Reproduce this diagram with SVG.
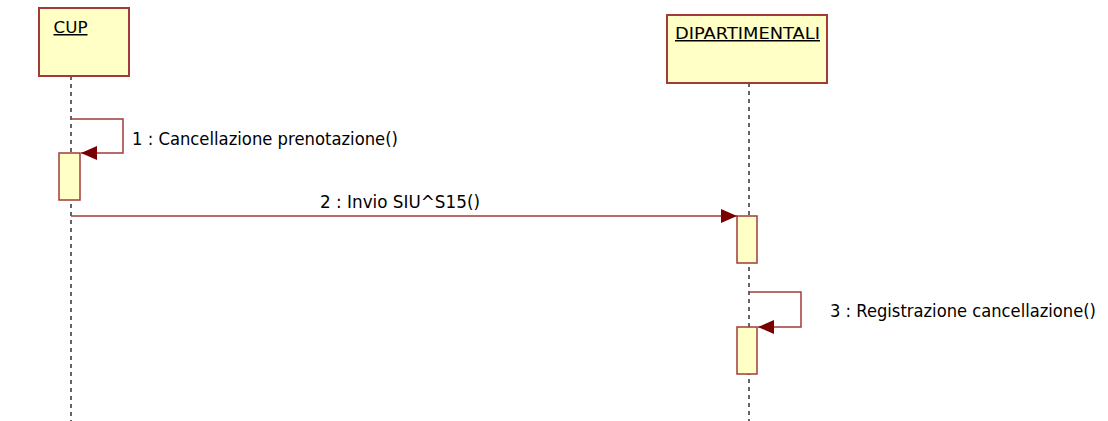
<svg xmlns="http://www.w3.org/2000/svg" width="1108" height="421" viewBox="0 0 1108 421">
<defs>
<style>
.obj{fill:#ffffc6;stroke:#a33a3a;stroke-width:2}
.act{fill:#ffffc6;stroke:#a33a3a;stroke-width:1.5}
.life{stroke:#333;stroke-width:1.5;stroke-dasharray:4 4;fill:none}
.msg{stroke:#a33a3a;stroke-width:1.5;fill:none}
.t{font-family:"DejaVu Sans","Liberation Sans",sans-serif;font-size:17px;fill:#000}
.title{font-family:"DejaVu Sans","Liberation Sans",sans-serif;font-size:15px;fill:#000;text-decoration:underline;text-anchor:middle}
</style>
<marker id="ah" markerWidth="16" markerHeight="14" refX="16" refY="7" orient="auto" markerUnits="userSpaceOnUse">
<path d="M0,0 L16,7 L0,14 Z" fill="#7a0000"/>
</marker>
</defs>
<rect width="1108" height="421" fill="#fff"/>
<g id="lifelines">
<line class="life" x1="71" y1="76" x2="71" y2="421"/>
<line class="life" x1="749" y1="83" x2="749" y2="421"/>
</g>
<g id="CUP">
<rect class="obj" x="39" y="8" width="90" height="68"/>
<text class="title" x="70.5" y="33" textLength="34" lengthAdjust="spacingAndGlyphs">CUP</text>
</g>
<g id="DIPARTIMENTALI">
<rect class="obj" x="667" y="15" width="160" height="68"/>
<text class="title" x="747.5" y="39" textLength="145" lengthAdjust="spacingAndGlyphs">DIPARTIMENTALI</text>
</g>
<g id="activations">
<rect class="act" x="59" y="153" width="21" height="47"/>
<rect class="act" x="737" y="216" width="20" height="47"/>
<rect class="act" x="737" y="327" width="20" height="47"/>
</g>
<g id="connectors">
<path class="msg" d="M71,119 H123 V153 H81" marker-end="url(#ah)"/>
<path class="msg" d="M71,216 H737" marker-end="url(#ah)"/>
<path class="msg" d="M749,292 H801 V327 H758" marker-end="url(#ah)"/>
</g>
<g id="labels">
<text class="t" x="132" y="145" textLength="266" lengthAdjust="spacingAndGlyphs">1 : Cancellazione prenotazione()</text>
<text class="t" x="320" y="207.5" textLength="160" lengthAdjust="spacingAndGlyphs">2 : Invio SIU^S15()</text>
<text class="t" x="830" y="317" textLength="266" lengthAdjust="spacingAndGlyphs">3 : Registrazione cancellazione()</text>
</g>
</svg>
